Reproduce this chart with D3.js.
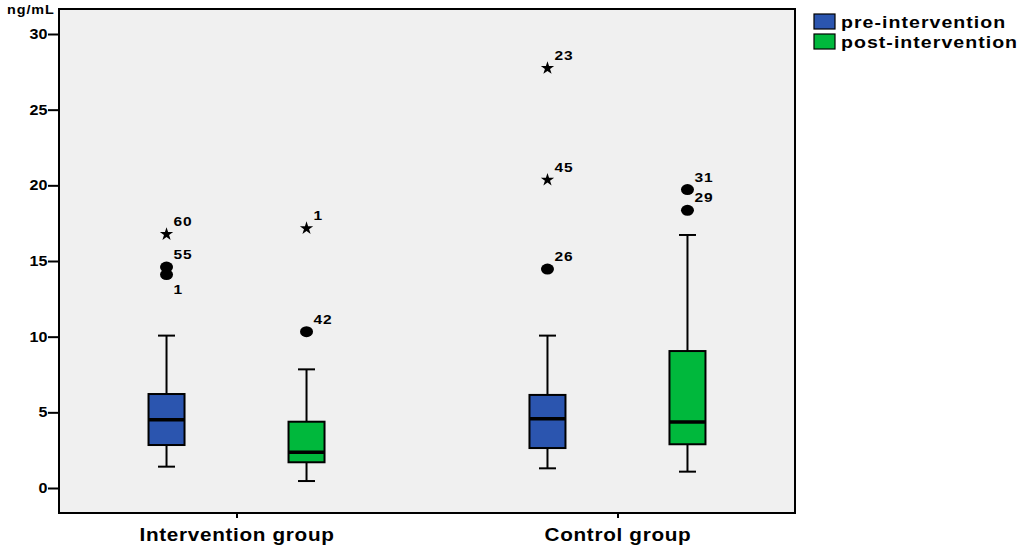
<!DOCTYPE html>
<html>
<head>
<meta charset="utf-8">
<script src="https://cdn.jsdelivr.net/npm/d3@7"></script>
<style>
  body { margin: 0; background: #fff; }
  svg { display: block; font-family: "Liberation Sans", Arial, sans-serif; }
</style>
</head>
<body>
<svg id="chart" width="1024" height="551"></svg>
<script>
// data
var groups = ["Intervention group", "Control group"];
var phases = ["pre-intervention", "post-intervention"];
var yTicks = [0, 5, 10, 15, 20, 25, 30];

// [group, phase, whiskerLow, q1, median, q3, whiskerHigh]
var boxStats = [
  ["Intervention group", "pre-intervention", 1.41, 2.84, 4.51, 6.21, 10.07],
  ["Intervention group", "post-intervention", 0.46, 1.70, 2.36, 4.38, 7.84],
  ["Control group", "pre-intervention", 1.30, 2.64, 4.58, 6.15, 10.07],
  ["Control group", "post-intervention", 1.08, 2.89, 4.36, 9.05, 16.72]
];

// [group, phase, value, case label, extreme (star) or not]
var outliers = [
  ["Intervention group", "pre-intervention", 16.77, "60", true],
  ["Intervention group", "pre-intervention", 14.60, "55", false],
  ["Intervention group", "pre-intervention", 14.10, "1", false],
  ["Intervention group", "post-intervention", 17.16, "1", true],
  ["Intervention group", "post-intervention", 10.33, "42", false],
  ["Control group", "pre-intervention", 27.74, "23", true],
  ["Control group", "pre-intervention", 20.36, "45", true],
  ["Control group", "pre-intervention", 14.47, "26", false],
  ["Control group", "post-intervention", 19.72, "31", false],
  ["Control group", "post-intervention", 18.35, "29", false]
];

var colors = {"pre-intervention": "#2b55af", "post-intervention": "#00b83c"};

var frame = {left: 59, top: 9, right: 795, bottom: 513};
var svg = d3.select("#chart");

// the original's lettering is wide, so stretch text sideways a bit
var wide = 1.15;

var x = d3.scalePoint()
  .domain(groups)
  .range([frame.left, frame.right])
  .padding(0.466);

var xSub = d3.scaleBand()
  .domain(phases)
  .range([-140, 140]);

var y = d3.scaleLinear()
  .domain([0, 30])
  .range([488, 34]);

var boxW = 36, capW = 17;
function cx(g, p) { return x(g) + xSub(p) + xSub.bandwidth() / 2; }

// plot background + frame
svg.append("rect")
  .attr("x", frame.left).attr("y", frame.top)
  .attr("width", frame.right - frame.left)
  .attr("height", frame.bottom - frame.top)
  .attr("fill", "#f0f0f0")
  .attr("stroke", "#000")
  .attr("stroke-width", 2);

// y axis
var yAxis = svg.append("g")
  .attr("transform", "translate(" + frame.left + ",0)")
  .call(d3.axisLeft(y).tickValues(yTicks).tickSize(11).tickPadding(0));
yAxis.select(".domain").remove();
yAxis.selectAll(".tick line").attr("stroke", "#000").attr("stroke-width", 2);
yAxis.selectAll(".tick text")
  .attr("fill", "#000")
  .attr("x", -11.5 / wide)
  .attr("transform", "scale(" + wide + ",1)")
  .style("font-size", "14px")
  .style("font-weight", "bold")
  .style("font-family", "Liberation Sans, Arial, sans-serif");

svg.append("text")
  .attr("x", 7 / wide).attr("y", 14)
  .attr("transform", "scale(" + wide + ",1)")
  .style("font-size", "12.5px")
  .style("font-weight", "bold")
  .style("letter-spacing", "0.8px")
  .text("ng/mL");

// x axis
var xAxis = svg.append("g")
  .attr("transform", "translate(0," + frame.bottom + ")")
  .call(d3.axisBottom(x).tickSize(5).tickPadding(10));
xAxis.select(".domain").remove();
xAxis.selectAll(".tick line").attr("stroke", "#000").attr("stroke-width", 2);
xAxis.selectAll(".tick text")
  .attr("fill", "#000")
  .attr("transform", "scale(" + wide + ",1)")
  .style("font-size", "18px")
  .style("font-weight", "bold")
  .style("letter-spacing", "0.6px")
  .style("font-family", "Liberation Sans, Arial, sans-serif");

// boxes
var box = svg.append("g").selectAll("g")
  .data(boxStats)
  .join("g");

box.append("line")
  .attr("x1", d => cx(d[0], d[1])).attr("x2", d => cx(d[0], d[1]))
  .attr("y1", d => y(d[2])).attr("y2", d => y(d[6]))
  .attr("stroke", "#000").attr("stroke-width", 2);

box.selectAll(".cap")
  .data(d => [[d[0], d[1], d[2]], [d[0], d[1], d[6]]])
  .join("line")
  .attr("class", "cap")
  .attr("x1", d => cx(d[0], d[1]) - capW / 2)
  .attr("x2", d => cx(d[0], d[1]) + capW / 2)
  .attr("y1", d => y(d[2])).attr("y2", d => y(d[2]))
  .attr("stroke", "#000").attr("stroke-width", 2);

box.append("rect")
  .attr("x", d => cx(d[0], d[1]) - boxW / 2)
  .attr("width", boxW)
  .attr("y", d => y(d[5]))
  .attr("height", d => y(d[3]) - y(d[5]))
  .attr("fill", d => colors[d[1]])
  .attr("stroke", "#000").attr("stroke-width", 2);

box.append("line")
  .attr("x1", d => cx(d[0], d[1]) - boxW / 2)
  .attr("x2", d => cx(d[0], d[1]) + boxW / 2)
  .attr("y1", d => y(d[4])).attr("y2", d => y(d[4]))
  .attr("stroke", "#000").attr("stroke-width", 3.5);

// outliers
var star = d3.symbol().type(d3.symbolStar).size(55);
var out = svg.append("g").selectAll("g")
  .data(outliers)
  .join("g")
  .attr("transform", d => "translate(" + cx(d[0], d[1]) + "," + y(d[2]) + ")");

out.filter(d => d[4]).append("path")
  .attr("d", star)
  .attr("fill", "#000");

out.filter(d => !d[4]).append("ellipse")
  .attr("rx", 6.5).attr("ry", 5.5)
  .attr("fill", "#000");

// label goes below when a neighbour sits just above it in the same box
out.append("text")
  .attr("x", 7 / wide)
  .attr("y", function(d, i) {
    var prev = outliers[i - 1];
    var below = prev && prev[0] === d[0] && prev[1] === d[1] && prev[2] - d[2] < 1;
    return below ? 19 : -8;
  })
  .attr("transform", "scale(" + wide + ",1)")
  .style("font-size", "13.5px")
  .style("font-weight", "bold")
  .style("letter-spacing", "0.8px")
  .text(d => d[3]);

// legend
var legend = svg.append("g").selectAll("g")
  .data(phases)
  .join("g")
  .attr("transform", (d, i) => "translate(814," + (14 + i * 20) + ")");

legend.append("rect")
  .attr("width", 21).attr("height", 15)
  .attr("fill", d => colors[d])
  .attr("stroke", "#000").attr("stroke-width", 1.2);

legend.append("text")
  .attr("x", 27 / wide).attr("y", 13.5)
  .attr("transform", "scale(" + wide + ",1)")
  .style("font-size", "17px")
  .style("font-weight", "bold")
  .style("letter-spacing", "0.9px")
  .text(d => d);
</script>
</body>
</html>
